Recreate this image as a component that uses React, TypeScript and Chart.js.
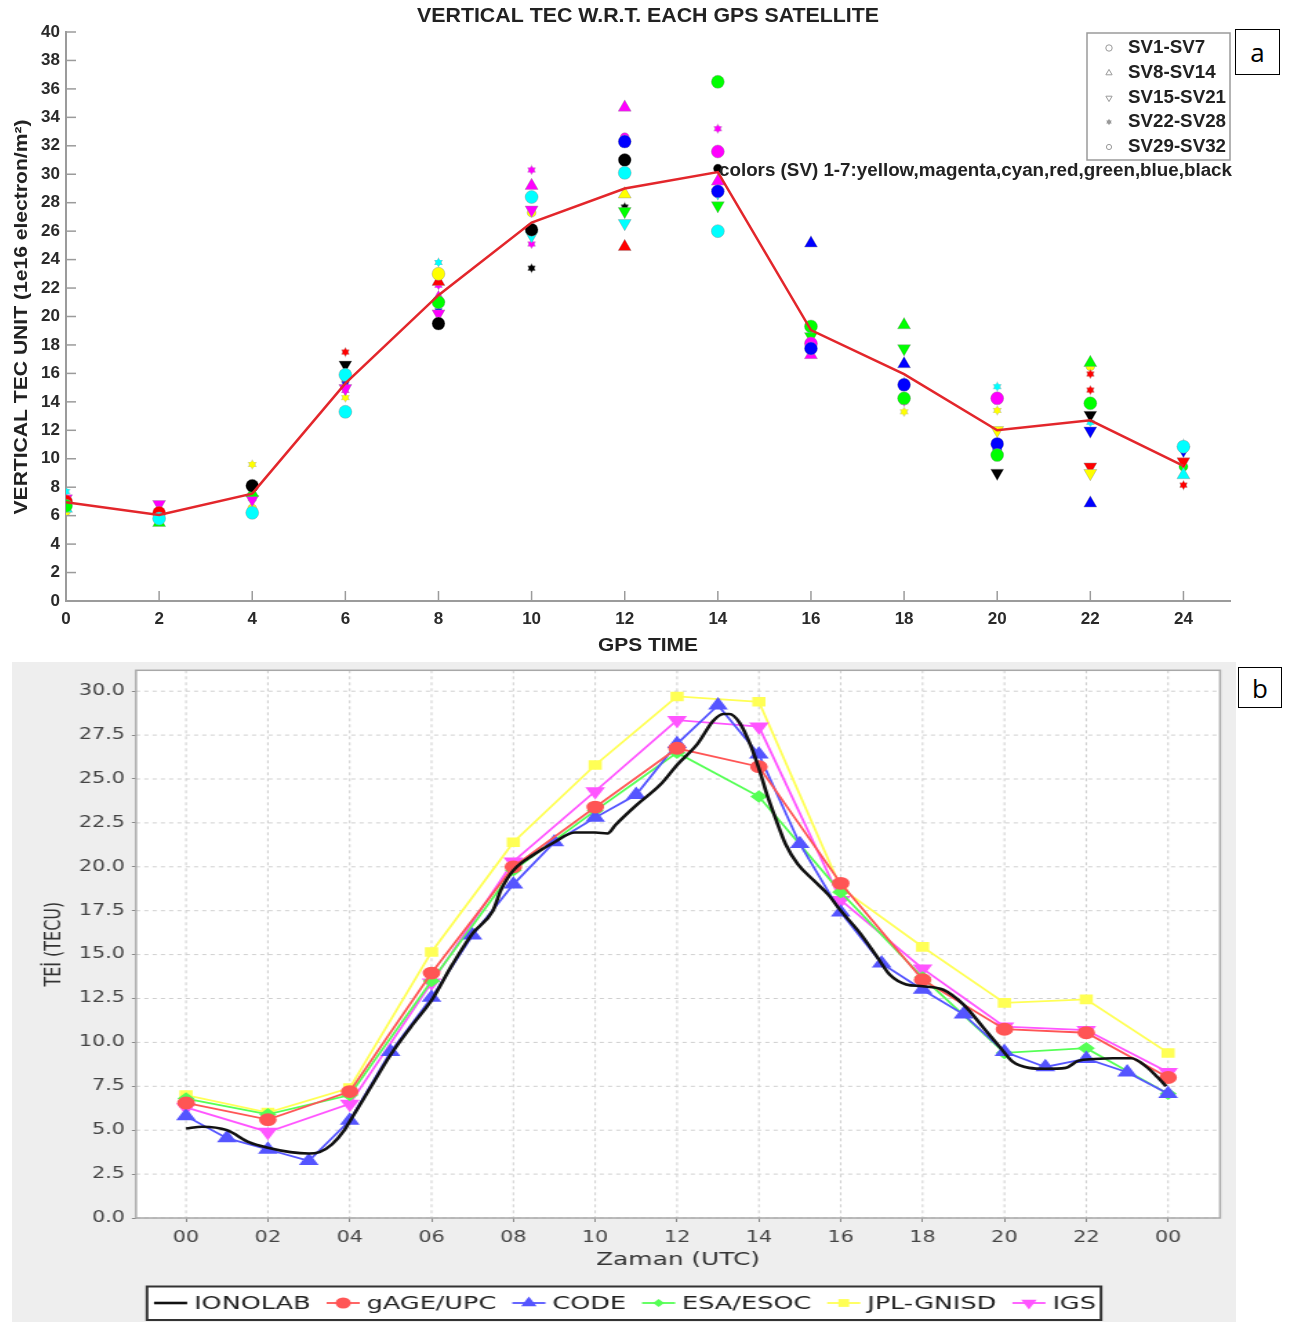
import React, { useEffect, useRef } from "react";
import { Chart, registerables } from "chart.js";
Chart.register(...registerables);

// ================= Panel (a): vertical TEC w.r.t. each GPS satellite =================
const hourTicksA = [0, 2, 4, 6, 8, 10, 12, 14, 16, 18, 20, 22, 24];
const vtecTicksA = [0, 2, 4, 6, 8, 10, 12, 14, 16, 18, 20, 22, 24, 26, 28, 30, 32, 34, 36, 38, 40];
const gpsHours = [0, 2, 4, 6, 8, 10, 12, 14, 16, 18, 20, 22, 24];
const meanVTEC = [6.95, 6.05, 7.55, 15.3, 21.5, 26.6, 29.0, 30.15, 19.05, 15.95, 12.0, 12.7, 9.5];
const svColorNames = ["yellow", "magenta", "cyan", "red", "green", "blue", "black"];
const svColors = ["#ffff00", "#ff00ff", "#00ffff", "#ff0000", "#00ff00", "#0000ff", "#000000"];
const legendLabelsA = ["SV1-SV7", "SV8-SV14", "SV15-SV21", "SV22-SV28", "SV29-SV32"];

// [GPS hour, VTEC, colour index]
const sv1to7: number[][] = [
  [0, 7.0, 3], [0, 6.7, 4], [2, 6.2, 3], [2, 5.8, 2], [4, 8.1, 6], [4, 6.2, 2], [6, 15.9, 2], [6, 13.3, 2],
  [8, 23.0, 0], [8, 21.0, 4], [8, 19.5, 6], [10, 28.4, 2], [10, 26.1, 6], [12, 32.3, 5], [12, 31.0, 6],
  [12, 30.1, 2], [14, 36.5, 4], [14, 31.6, 1], [14, 28.8, 5], [14, 26.0, 2], [16, 19.3, 4], [16, 18.1, 1],
  [16, 17.75, 5], [18, 15.2, 5], [18, 14.25, 4], [20, 14.25, 1], [20, 11.04, 5], [20, 10.26, 4],
  [22, 13.9, 4], [24, 10.85, 2],
];
const sv8to14: number[][] = [
  [0, 6.5, 2], [2, 5.5, 4], [4, 7.6, 4], [8, 22.45, 3], [8, 21.3, 1], [10, 29.2, 1], [12, 34.7, 1],
  [12, 28.6, 0], [12, 24.9, 3], [14, 29.5, 1], [16, 25.15, 5], [16, 17.3, 1], [18, 19.4, 4], [18, 16.66, 5],
  [22, 16.75, 4], [22, 6.87, 5], [24, 8.86, 2],
];
const sv15to21: number[][] = [
  [0, 7.2, 1], [2, 6.8, 1], [4, 7.15, 1], [6, 16.6, 6], [6, 14.95, 1], [8, 20.2, 1], [10, 27.5, 1],
  [10, 25.7, 2], [12, 27.4, 4], [12, 26.55, 2], [14, 28.7, 2], [14, 27.8, 4], [16, 18.6, 4], [18, 17.75, 4],
  [20, 12.0, 0], [20, 9.0, 6], [22, 13.07, 6], [22, 11.97, 5], [22, 9.44, 3], [22, 8.98, 0], [24, 10.6, 5],
  [24, 9.8, 3],
];
const sv22to28: number[][] = [
  [0, 7.7, 2], [0, 6.9, 3], [2, 6.0, 3], [4, 9.6, 0], [4, 8.0, 3], [4, 7.2, 5], [6, 17.5, 3], [6, 15.6, 6],
  [6, 15.25, 5], [6, 14.8, 1], [6, 14.3, 0], [8, 23.8, 2], [8, 22.2, 1], [8, 20.4, 5], [10, 30.3, 1],
  [10, 25.1, 1], [10, 23.4, 6], [12, 27.7, 6], [14, 33.2, 1], [16, 18.95, 2], [18, 15.4, 5], [18, 14.0, 1],
  [18, 13.3, 0], [20, 15.07, 2], [20, 13.4, 0], [22, 15.96, 3], [22, 14.83, 3], [22, 12.56, 2],
  [24, 11.04, 2], [24, 8.15, 3],
];
const sv29to32: number[][] = [
  [0, 6.3, 0], [4, 6.5, 0], [10, 27.3, 0], [12, 32.6, 1], [14, 30.4, 6], [20, 10.66, 5], [22, 16.5, 0],
  [24, 9.44, 4],
];

// ================= Panel (b): TEC from different centres =================
const hourTicksB = [0, 2, 4, 6, 8, 10, 12, 14, 16, 18, 20, 22, 24];
const tecTicksB = [0, 2.5, 5, 7.5, 10, 12.5, 15, 17.5, 20, 22.5, 25, 27.5, 30];
const ionolabHours = [0, 0.4, 1.0, 1.55, 2.0, 2.55, 3.0, 3.26, 3.57, 3.87, 4.0, 4.5, 5.0, 5.5, 6.0, 6.5, 7.0,
  7.5, 7.7, 8.0, 8.5, 9.0, 9.5, 10.0, 10.3, 10.5, 11.0, 11.6, 12.0, 12.5, 12.88, 13.13, 13.28, 13.53, 13.8,
  14.0, 14.2, 14.4, 14.65, 14.95, 15.35, 15.7, 16.0, 16.48, 16.88, 17.2, 17.6, 18.0, 18.5, 19.0, 19.5, 19.9,
  20.2, 20.6, 21.0, 21.5, 21.8, 22.2, 22.65, 23.1, 23.45, 23.75, 23.95];
const ionolabTEC = [5.1, 5.2, 5.0, 4.3, 4.0, 3.75, 3.67, 3.75, 4.2, 5.0, 5.5, 7.4, 9.3, 10.9, 12.4, 14.4, 16.2,
  17.5, 18.7, 19.8, 20.7, 21.4, 21.95, 21.95, 21.9, 22.4, 23.5, 24.7, 25.8, 27.0, 28.3, 28.7, 28.7, 28.2, 26.9,
  25.6, 24.1, 22.8, 21.3, 20.15, 19.2, 18.4, 17.5, 16.2, 14.9, 13.85, 13.3, 13.2, 13.0, 12.15, 10.8, 9.7,
  8.9, 8.55, 8.5, 8.55, 8.95, 9.05, 9.1, 9.1, 8.65, 8.0, 7.5];
const codeHours = [0, 1, 2, 3, 4, 5, 6, 7, 8, 9, 10, 11, 12, 13, 14, 15, 16, 17, 18, 19, 20, 21, 22, 23, 24];
const codeTEC = [5.8, 4.55, 3.9, 3.25, 5.55, 9.46, 12.55, 16.1, 19.0, 21.4, 22.8, 24.1, 27.0, 29.2, 26.4,
  21.3, 17.4, 14.5, 13.0, 11.6, 9.46, 8.6, 9.07, 8.3, 7.07];
const centreHours = [0, 2, 4, 6, 8, 10, 12, 14, 16, 18, 20, 22, 24];
const gageTEC = [6.55, 5.6, 7.2, 13.95, 20.0, 23.4, 26.75, 25.7, 19.06, 13.57, 10.75, 10.55, 8.0];
const esaTEC = [6.8, 5.9, 7.0, 13.5, 19.8, 23.2, 26.5, 24.0, 18.55, 13.7, 9.4, 9.67, 7.07];
const jplTEC = [7.0, 6.0, 7.4, 15.15, 21.4, 25.8, 29.7, 29.4, 18.8, 15.44, 12.25, 12.45, 9.4];
const igsTEC = [6.3, 4.9, 6.5, 13.4, 20.3, 24.3, 28.35, 27.98, 18.1, 14.2, 10.9, 10.7, 8.3];

// ================= helpers =================
const FONT_A = '"Liberation Sans", Arial, sans-serif';
const FONT_B = '"DejaVu Sans", sans-serif';
const STRETCH_B = 1.38;
const B_W = 1224;
const B_H = 660;
const B_INNER_W = B_W / STRETCH_B;

function drawFitted(ctx: CanvasRenderingContext2D, text: string, x: number, y: number, width: number,
  font: string, align: CanvasTextAlign = "center", rotate = 0, color = "#222") {
  ctx.save();
  ctx.font = font;
  ctx.fillStyle = color;
  ctx.textBaseline = "middle";
  ctx.textAlign = align;
  const w = ctx.measureText(text).width;
  ctx.translate(x, y);
  if (rotate) ctx.rotate(rotate);
  ctx.scale(width / w, 1);
  ctx.fillText(text, 0, 0);
  ctx.restore();
}

function hexPath(g: CanvasRenderingContext2D, cx: number, cy: number, r: number) {
  for (const base of [-Math.PI / 2, Math.PI / 2]) {
    g.beginPath();
    for (let k = 0; k < 3; k++) {
      const a = base + (k * 2 * Math.PI) / 3;
      const px = cx + r * Math.cos(a), py = cy + r * Math.sin(a);
      if (k === 0) g.moveTo(px, py); else g.lineTo(px, py);
    }
    g.closePath();
    g.fill();
  }
}

function makeHexagram(color: string, size: number) {
  const c = document.createElement("canvas");
  c.width = size; c.height = size;
  const g = c.getContext("2d")!;
  g.fillStyle = "rgba(150,150,150,0.6)";
  hexPath(g, size / 2, size / 2, size / 2 - 0.3);
  g.fillStyle = color;
  hexPath(g, size / 2, size / 2, size / 2 - 1.2);
  return c;
}

function drawMarker(ctx: CanvasRenderingContext2D, style: string, rot: number, x: number, y: number,
  r: number, fill: string | null, stroke: string | null) {
  ctx.save();
  ctx.translate(x, y);
  ctx.rotate((rot * Math.PI) / 180);
  ctx.beginPath();
  if (style === "circle") ctx.arc(0, 0, r, 0, Math.PI * 2);
  else if (style === "triangle") {
    ctx.moveTo(0, -r); ctx.lineTo(r * 0.866, r * 0.5); ctx.lineTo(-r * 0.866, r * 0.5); ctx.closePath();
  } else if (style === "rectRot") {
    const s = r * 0.8;
    ctx.moveTo(0, -s); ctx.lineTo(s, 0); ctx.lineTo(0, s); ctx.lineTo(-s, 0); ctx.closePath();
  } else if (style === "rect") {
    const s = r * Math.SQRT1_2;
    ctx.rect(-s, -s, 2 * s, 2 * s);
  } else if (style === "star") {
    ctx.restore();
    ctx.save();
    ctx.fillStyle = fill || "#888";
    hexPath(ctx, x, y, r);
    ctx.restore();
    return;
  }
  if (fill) { ctx.fillStyle = fill; ctx.fill(); }
  if (stroke) { ctx.strokeStyle = stroke; ctx.lineWidth = 1; ctx.stroke(); }
  ctx.restore();
}

// ================= Panel A component =================
function PanelA() {
  const ref = useRef<HTMLCanvasElement>(null);
  useEffect(() => {
    const stars = svColors.map((c) => makeHexagram(c, 11));
    const group = (label: string, arr: number[][], style: string, radius: number, rotation = 0) => ({
      type: "scatter" as const,
      label,
      data: arr.map((p) => ({ x: p[0], y: p[1] })),
      pointStyle: style === "star" ? arr.map((p) => stars[p[2]]) : style,
      pointRadius: radius,
      pointRotation: rotation,
      pointBackgroundColor: arr.map((p) => svColors[p[2]]),
      pointBorderColor: "rgba(150,150,150,0.55)",
      pointBorderWidth: 0.8,
      showLine: false,
      order: 2,
    });

    const textPlugin = {
      id: "panelAText",
      afterDraw(chart: any) {
        const { ctx, chartArea, scales } = chart;
        const { left, bottom } = chartArea;
        // inward tick marks
        ctx.save();
        ctx.strokeStyle = "#9b9b9b";
        ctx.lineWidth = 1.5;
        scales.x.ticks.forEach((t: any) => {
          const px = scales.x.getPixelForValue(t.value);
          ctx.beginPath(); ctx.moveTo(px, bottom); ctx.lineTo(px, bottom - 10); ctx.stroke();
        });
        scales.y.ticks.forEach((t: any) => {
          const py = scales.y.getPixelForValue(t.value);
          ctx.beginPath(); ctx.moveTo(left, py); ctx.lineTo(left + 10, py); ctx.stroke();
        });
        ctx.restore();

        drawFitted(ctx, "VERTICAL TEC W.R.T. EACH GPS SATELLITE", 648, 16, 462, `bold 21px ${FONT_A}`);
        drawFitted(ctx, "VERTICAL TEC UNIT (1e16 electron/m\u00B2)", 22, 317, 395, `bold 18px ${FONT_A}`, "center", -Math.PI / 2);
        drawFitted(ctx, "GPS TIME", 648, 646, 100, `bold 19px ${FONT_A}`);
        drawFitted(ctx, "colors (SV) 1-7:" + svColorNames.join(","), 719, 171, 513, `bold 18px ${FONT_A}`, "left");

        // legend box
        ctx.save();
        ctx.strokeStyle = "#9a9a9a";
        ctx.lineWidth = 1.5;
        ctx.fillStyle = "#ffffff";
        ctx.fillRect(1087, 33, 143, 127);
        ctx.strokeRect(1087, 33, 143, 127);
        ctx.restore();
        const rowsY = [48, 73, 98, 122, 147];
        const styles = ["circle", "triangle", "triangle", "star", "circle"];
        const rots = [0, 0, 180, 0, 0];
        const radii = [3.2, 3.6, 3.6, 3.2, 2.6];
        ctx.save();
        ctx.font = `bold 18px ${FONT_A}`;
        const s = 98 / ctx.measureText("SV29-SV32").width;
        ctx.restore();
        legendLabelsA.forEach((lab, i) => {
          const st = styles[i];
          drawMarker(ctx, st, rots[i], 1109, rowsY[i], radii[i], st === "star" ? "#999" : null, st === "star" ? null : "#9a9a9a");
          ctx.save();
          ctx.font = `bold 18px ${FONT_A}`;
          const w = ctx.measureText(lab).width;
          ctx.restore();
          drawFitted(ctx, lab, 1128, rowsY[i], w * s, `bold 18px ${FONT_A}`, "left");
        });
      },
    };

    const chart = new Chart(ref.current!, {
      type: "scatter",
      data: {
        datasets: [
          {
            type: "line",
            label: "Mean VTEC",
            data: gpsHours.map((h, i) => ({ x: h, y: meanVTEC[i] })),
            borderColor: "#e3262b",
            borderWidth: 2.5,
            pointRadius: 0,
            tension: 0,
            order: 1,
          } as any,
          group(legendLabelsA[0], sv1to7, "circle", 6.5),
          group(legendLabelsA[1], sv8to14, "triangle", 7.5),
          group(legendLabelsA[2], sv15to21, "triangle", 7.5, 180),
          group(legendLabelsA[3], sv22to28, "star", 5.5),
          group(legendLabelsA[4], sv29to32, "circle", 4.5),
        ],
      },
      options: {
        responsive: true,
        maintainAspectRatio: false,
        animation: false,
        layout: { padding: { left: 0, right: 60, top: 32, bottom: 0 } },
        plugins: { legend: { display: false }, tooltip: { enabled: false } },
        scales: {
          x: {
            type: "linear",
            min: 0,
            max: 25,
            afterBuildTicks: (s: any) => { s.ticks = hourTicksA.map((v) => ({ value: v })); },
            afterFit: (s: any) => { s.height = 54; s.paddingLeft = 0; s.paddingRight = 0; },
            ticks: {
              font: { family: FONT_A, weight: "bold", size: 17 },
              color: "#2a2a2a",
              padding: 8,
              maxRotation: 0,
              autoSkip: false,
              callback: (v: any) => String(v),
            },
            grid: { drawOnChartArea: false, drawTicks: false },
            border: { color: "#9b9b9b", width: 2 },
          },
          y: {
            type: "linear",
            min: 0,
            max: 40,
            afterBuildTicks: (s: any) => { s.ticks = vtecTicksA.map((v) => ({ value: v })); },
            afterFit: (s: any) => { s.width = 66; s.paddingTop = 0; s.paddingBottom = 0; },
            ticks: {
              font: { family: FONT_A, weight: "bold", size: 17 },
              color: "#2a2a2a",
              padding: 6,
              autoSkip: false,
              callback: (v: any) => String(v),
            },
            grid: { drawOnChartArea: false, drawTicks: false },
            border: { color: "#9b9b9b", width: 2 },
          },
        },
      } as any,
      plugins: [textPlugin],
    });
    return () => chart.destroy();
  }, []);
  return (
    <div style={{ position: "absolute", left: 0, top: 0, width: 1290, height: 655 }}>
      <canvas ref={ref} />
    </div>
  );
}

// ================= Panel B component =================
function PanelB() {
  const ref = useRef<HTMLCanvasElement>(null);
  useEffect(() => {
    const mk = (hours: number[], vals: number[]) => hours.map((h, i) => ({ x: h, y: vals[i] }));
    const series = (label: string, hours: number[], vals: number[], color: string, style: string,
      radius: number, rotation: number, order: number) => ({
      label,
      data: mk(hours, vals),
      borderColor: color,
      backgroundColor: color,
      pointBackgroundColor: color,
      pointBorderColor: color,
      pointStyle: style,
      pointRadius: radius,
      pointRotation: rotation,
      borderWidth: 1.8,
      tension: 0,
      order,
    });

    const plotPlugin = {
      id: "panelBPlot",
      beforeDraw(chart: any) {
        const { ctx, chartArea: a } = chart;
        ctx.save();
        ctx.fillStyle = "#ffffff";
        ctx.fillRect(a.left, a.top, a.right - a.left, a.bottom - a.top);
        ctx.restore();
      },
      beforeDatasetsDraw(chart: any) {
        const { ctx, chartArea: a, scales } = chart;
        ctx.save();
        ctx.strokeStyle = "#cfcfcf";
        ctx.lineWidth = 1;
        ctx.setLineDash([3, 3]);
        scales.x.ticks.forEach((t: any) => {
          const px = scales.x.getPixelForValue(t.value);
          ctx.beginPath(); ctx.moveTo(px, a.top); ctx.lineTo(px, a.bottom); ctx.stroke();
        });
        scales.y.ticks.forEach((t: any) => {
          const py = scales.y.getPixelForValue(t.value);
          ctx.beginPath(); ctx.moveTo(a.left, py); ctx.lineTo(a.right, py); ctx.stroke();
        });
        ctx.restore();
      },
      afterDraw(chart: any) {
        const { ctx, chartArea: a } = chart;
        ctx.save();
        ctx.strokeStyle = "#a8a8a8";
        ctx.lineWidth = 1.5;
        ctx.strokeRect(a.left, a.top, a.right - a.left, a.bottom - a.top);
        ctx.restore();

        // legend
        const boxL = (147 - 12) / STRETCH_B;
        const boxR = (1101 - 12) / STRETCH_B;
        ctx.save();
        ctx.fillStyle = "#ffffff";
        ctx.fillRect(boxL, 624.5, boxR - boxL, 33.5);
        ctx.strokeStyle = "#333";
        ctx.lineWidth = 2;
        ctx.strokeRect(boxL, 624.5, boxR - boxL, 33.5);
        ctx.restore();
        const cy = 641;
        let x = (154 - 12) / STRETCH_B;
        const font = `18.5px ${FONT_B}`;
        chart.data.datasets.forEach((ds: any) => {
          ctx.save();
          ctx.strokeStyle = ds.borderColor;
          ctx.lineWidth = ds.borderWidth;
          ctx.beginPath(); ctx.moveTo(x, cy); ctx.lineTo(x + 24, cy); ctx.stroke();
          ctx.restore();
          if (ds.pointRadius > 0) drawMarker(ctx, ds.pointStyle, ds.pointRotation, x + 12, cy, ds.pointRadius, ds.borderColor, null);
          ctx.save();
          ctx.font = font;
          ctx.fillStyle = "#222";
          ctx.textBaseline = "middle";
          ctx.textAlign = "left";
          ctx.fillText(ds.label, x + 29, cy + 1);
          const w = ctx.measureText(ds.label).width;
          ctx.restore();
          x += 29 + w + 11.6;
        });
      },
    };

    const chart = new Chart(ref.current!, {
      type: "line",
      data: {
        datasets: [
          {
            label: "IONOLAB",
            data: mk(ionolabHours, ionolabTEC),
            borderColor: "#111111",
            backgroundColor: "#111111",
            borderWidth: 2.6,
            pointRadius: 0,
            cubicInterpolationMode: "monotone",
            order: 0,
          } as any,
          series("gAGE/UPC", centreHours, gageTEC, "#ff5555", "circle", 5.5, 0, 2),
          series("CODE", codeHours, codeTEC, "#5555ff", "triangle", 6.5, 0, 3),
          series("ESA/ESOC", centreHours, esaTEC, "#55ff55", "rectRot", 5, 0, 4),
          series("JPL-GNISD", centreHours, jplTEC, "#ffff55", "rect", 5.5, 0, 6),
          series("IGS", centreHours, igsTEC, "#ff55ff", "triangle", 6.5, 180, 5),
        ],
      },
      options: {
        responsive: true,
        maintainAspectRatio: false,
        animation: false,
        layout: { padding: { left: 0, right: B_INNER_W - (1220 - 12) / STRETCH_B, top: 5, bottom: 0 } },
        plugins: { legend: { display: false }, tooltip: { enabled: false } },
        scales: {
          x: {
            type: "linear",
            min: -1.222,
            max: 25.27,
            afterBuildTicks: (s: any) => { s.ticks = hourTicksB.map((v) => ({ value: v })); },
            afterFit: (s: any) => { s.height = 104; s.paddingLeft = 0; s.paddingRight = 0; },
            ticks: {
              font: { family: FONT_B, size: 15 },
              color: "#444",
              padding: 7,
              maxRotation: 0,
              autoSkip: false,
              callback: (v: any) => String(Math.round(Number(v)) % 24).padStart(2, "0"),
            },
            grid: { drawOnChartArea: false, drawTicks: true, tickLength: 4, color: "#888", tickColor: "#888" },
            border: { display: false },
            title: {
              display: true,
              text: "Zaman (UTC)",
              font: { family: FONT_B, size: 18 },
              color: "#333",
              padding: { top: 0, bottom: 51 },
            },
          },
          y: {
            type: "linear",
            min: 0,
            max: 31.19,
            afterBuildTicks: (s: any) => { s.ticks = tecTicksB.map((v) => ({ value: v })); },
            afterFit: (s: any) => { s.width = (136 - 12) / STRETCH_B; s.paddingTop = 0; s.paddingBottom = 0; },
            ticks: {
              font: { family: FONT_B, size: 15 },
              color: "#444",
              padding: 5,
              autoSkip: false,
              callback: (v: any) => Number(v).toFixed(1),
            },
            grid: { drawOnChartArea: false, drawTicks: true, tickLength: 3, color: "#888", tickColor: "#888" },
            border: { display: false },
            title: {
              display: true,
              text: "TE\u0130 (TECU)",
              font: { family: FONT_B, size: 16 },
              color: "#333",
              padding: { top: 21.6, bottom: 0 },
            },
          },
        },
      } as any,
      plugins: [plotPlugin],
    });
    return () => chart.destroy();
  }, []);
  return (
    <div style={{ position: "absolute", left: 12, top: 662, width: B_W, height: B_H, background: "#eeeeee", overflow: "hidden" }}>
      <div style={{ position: "absolute", left: 0, top: 0, width: B_INNER_W, height: B_H, transform: `scaleX(${STRETCH_B})`, transformOrigin: "0 0" }}>
        <canvas ref={ref} />
      </div>
    </div>
  );
}

const boxLabel = (letter: string, left: number, top: number, w: number, h: number) => (
  <div
    style={{
      position: "absolute", left, top, width: w, height: h, border: "1px solid #000", boxSizing: "border-box",
      background: "#fff", display: "flex", alignItems: "center", justifyContent: "center",
      font: '26px "Open Sans", "Liberation Sans", sans-serif', color: "#000", lineHeight: 1,
    }}
  >
    {letter}
  </div>
);

export default function App() {
  return (
    <div style={{ position: "absolute", left: 0, top: 0, width: 1290, height: 1322, background: "#fff", overflow: "hidden" }}>
      <PanelA />
      <PanelB />
      {boxLabel("a", 1235, 29, 45, 46)}
      {boxLabel("b", 1238, 667, 44, 41)}
    </div>
  );
}
